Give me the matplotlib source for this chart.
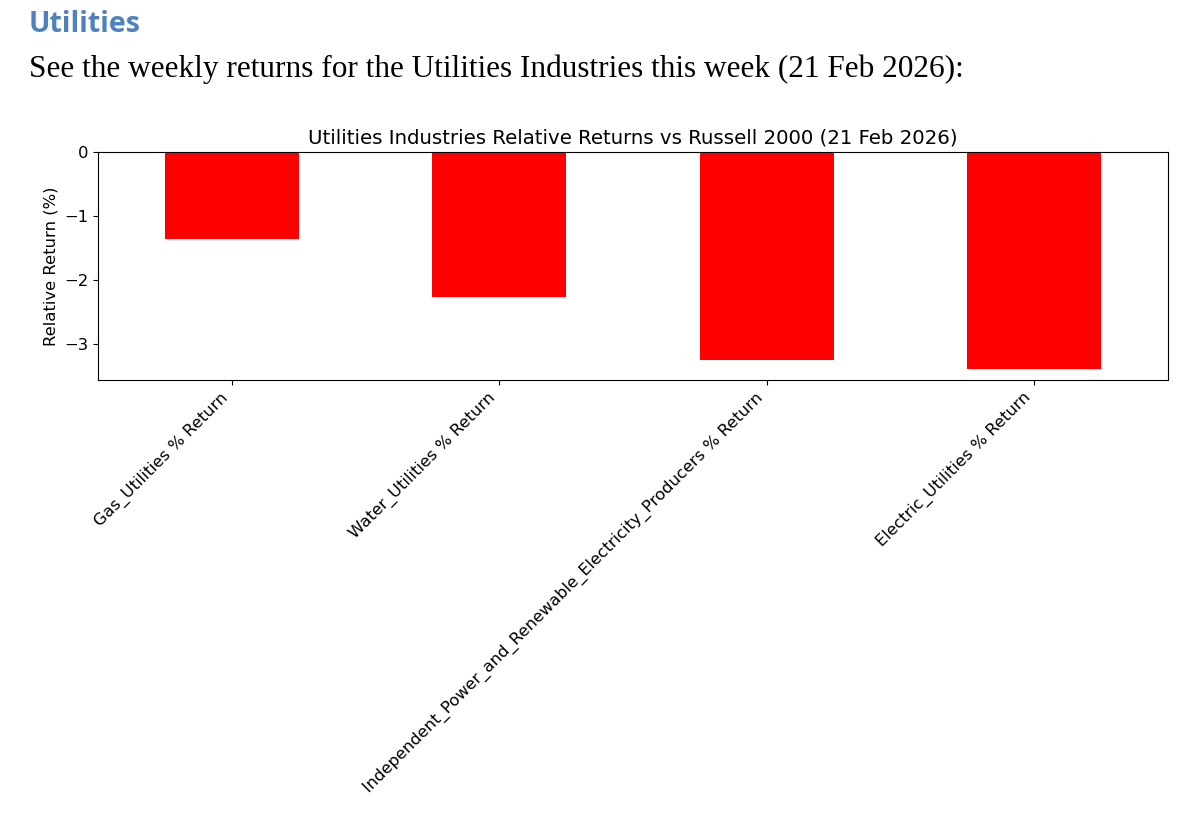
import numpy as np
from matplotlib import pyplot as plt

industries = ['Gas_Utilities % Return', 'Water_Utilities % Return',
              'Independent_Power_and_Renewable_Electricity_Producers % Return',
              'Electric_Utilities % Return']
returns = [-1.36, -2.27, -3.25, -3.39]

fig = plt.figure(figsize=(11.9, 8.25), dpi=100)
ax = fig.add_axes([98/1190, 1 - 380/825, 1070/1190, 228/825])

x = np.arange(len(industries))
ax.bar(x, returns, width=0.5, color='red')
ax.set_xlim(-0.5, len(industries) - 0.5)
ax.set_ylim(min(returns) * 1.05, 0)
ax.set_xticks(x)
ax.set_xticklabels(industries, rotation=45, ha='right', fontsize=11.8)
ax.tick_params(axis='y', labelsize=11.8)
ax.set_ylabel('Relative Return (%)', fontsize=11.8)
ax.set_title('Utilities Industries Relative Returns vs Russell 2000 (21 Feb 2026)', fontsize=14.2)

fig.text(29/1190, 1 - 24/825, 'Utilities', fontsize=20.5, fontweight='bold',
         family='Open Sans', color='#4F81BD', va='center')
fig.text(29/1190, 1 - 69/825, 'See the weekly returns for the Utilities Industries this week (21 Feb 2026):',
         fontsize=22.5, family='Liberation Serif', va='center')

plt.savefig('out.png')
